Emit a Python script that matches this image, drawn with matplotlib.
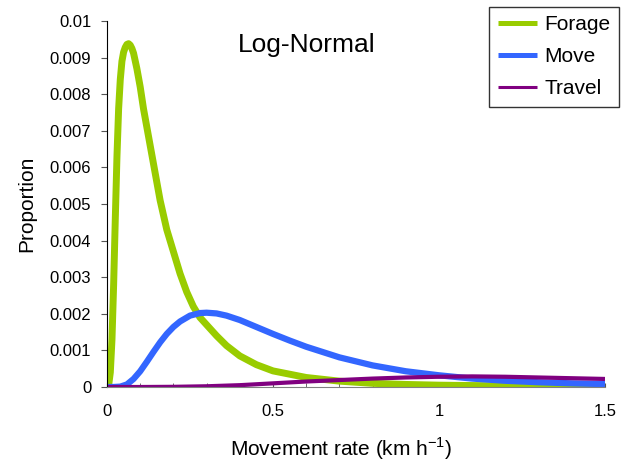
import matplotlib
matplotlib.use("Agg")
import matplotlib.pyplot as plt
from matplotlib.ticker import MultipleLocator, FuncFormatter

plt.rcParams['font.family'] = ['Liberation Sans', 'DejaVu Sans']
plt.rcParams['mathtext.fontset'] = 'custom'
plt.rcParams['mathtext.rm'] = 'Liberation Sans'

# values
forage_x = [0, 0.005, 0.01, 0.015, 0.02, 0.025, 0.03, 0.035, 0.04, 0.045, 0.05, 0.055,
            0.06, 0.065, 0.07, 0.075, 0.08, 0.09, 0.1, 0.11, 0.12, 0.13, 0.14, 0.15,
            0.16, 0.17, 0.18, 0.19, 0.2, 0.22, 0.24, 0.26, 0.28, 0.3, 0.33, 0.36, 0.4,
            0.45, 0.5, 0.6, 0.7, 0.8, 0.9, 1.0, 1.1, 1.2, 1.3, 1.4, 1.5]
forage_y = [0, 0.00005, 0.0004, 0.0013, 0.0028, 0.0046, 0.0063, 0.0076, 0.0084, 0.0089,
            0.00915, 0.00928, 0.00936, 0.00938, 0.00934, 0.00925, 0.00912, 0.0087,
            0.0082, 0.0076, 0.0071, 0.0066, 0.0061, 0.0056, 0.0051, 0.0047, 0.0043,
            0.0040, 0.0037, 0.0031, 0.0026, 0.0022, 0.0019, 0.0017, 0.0014, 0.00113,
            0.00085, 0.00061, 0.00044, 0.00026, 0.00016, 0.0001, 0.00007, 0.00005,
            0.00004, 0.00003, 0.00002, 0.00002, 0.00001]

move_x = [0, 0.02, 0.04, 0.06, 0.08, 0.1, 0.12, 0.14, 0.16, 0.18, 0.2, 0.22, 0.25, 0.28,
          0.3, 0.33, 0.36, 0.4, 0.45, 0.5, 0.55, 0.6, 0.7, 0.8, 0.9, 1.0, 1.1, 1.2, 1.3,
          1.4, 1.5]
move_y = [0, 0, 0.00001, 0.00007, 0.00022, 0.00043, 0.00069, 0.00096, 0.00122, 0.00145,
          0.00164, 0.00179, 0.00195, 0.00202, 0.00203, 0.00201, 0.00195, 0.00183,
          0.00164, 0.00145, 0.00127, 0.0011, 0.00081, 0.00059, 0.00043, 0.00032,
          0.00023, 0.00017, 0.00013, 0.0001, 0.00008]

travel_x = [0, 0.1, 0.2, 0.3, 0.4, 0.5, 0.6, 0.7, 0.8, 0.9, 1.0, 1.1, 1.2, 1.3, 1.4, 1.5]
travel_y = [0, 0, 0.000005, 0.00002, 0.00005, 0.0001, 0.00015, 0.00019, 0.00023,
            0.00026, 0.00028, 0.00029, 0.00028, 0.00026, 0.00024, 0.00022]

series = [
    ("Forage", forage_x, forage_y, "#99CC00", 5.0, 3.6),
    ("Move", move_x, move_y, "#3366FF", 4.5, 3.6),
    ("Travel", travel_x, travel_y, "#800080", 3.0, 2.2),
]

fig = plt.figure(figsize=(6.32, 4.67), dpi=100)
ax = fig.add_axes([107/632, 1 - 387/467, 498/632, 366/467])

for name, xs, ys, col, lw, _ in series:
    ax.plot(xs, ys, color=col, lw=lw, label=name, solid_capstyle='butt')

ax.set_xlim(0, 1.5)
ax.set_ylim(0, 0.01)

def fmt(v, pos):
    s = f"{v:.3f}".rstrip('0').rstrip('.')
    return s

ax.xaxis.set_major_locator(MultipleLocator(0.5))
ax.xaxis.set_minor_locator(MultipleLocator(0.1))
ax.yaxis.set_major_locator(MultipleLocator(0.001))
ax.xaxis.set_major_formatter(FuncFormatter(fmt))
ax.yaxis.set_major_formatter(FuncFormatter(fmt))

ax.tick_params(axis='x', which='both', direction='in', length=3, color='#555555',
               labelsize=12, pad=12)
ax.tick_params(axis='y', direction='out', length=4.3, color='#555555',
               labelsize=12, pad=7)

for s in ['top', 'right']:
    ax.spines[s].set_visible(False)
ax.spines['left'].set_color('black')
ax.spines['bottom'].set_color('#808080')

ax.set_xlabel("Movement rate (km h$^{\\mathregular{-1}}$)", fontsize=15, labelpad=12)
ax.xaxis.label.set_x((341 - 107) / 498)
ax.set_ylabel("Proportion", fontsize=15, labelpad=10)

ax.text(0.40, 0.934, "Log-Normal", transform=ax.transAxes, fontsize=19,
        ha='center', va='center')

leg = fig.legend(loc='upper right', bbox_to_anchor=(619/632, 1 - 7/467),
                 fontsize=15, frameon=True, fancybox=False, borderaxespad=0,
                 handlelength=1.9, handletextpad=0.35, labelspacing=0.62,
                 borderpad=0.4)
leg.get_frame().set_edgecolor('black')
leg.get_frame().set_linewidth(1.0)
for h, s in zip(leg.get_lines(), series):
    h.set_linewidth(s[5])

fig.savefig("out.png", dpi=100)
